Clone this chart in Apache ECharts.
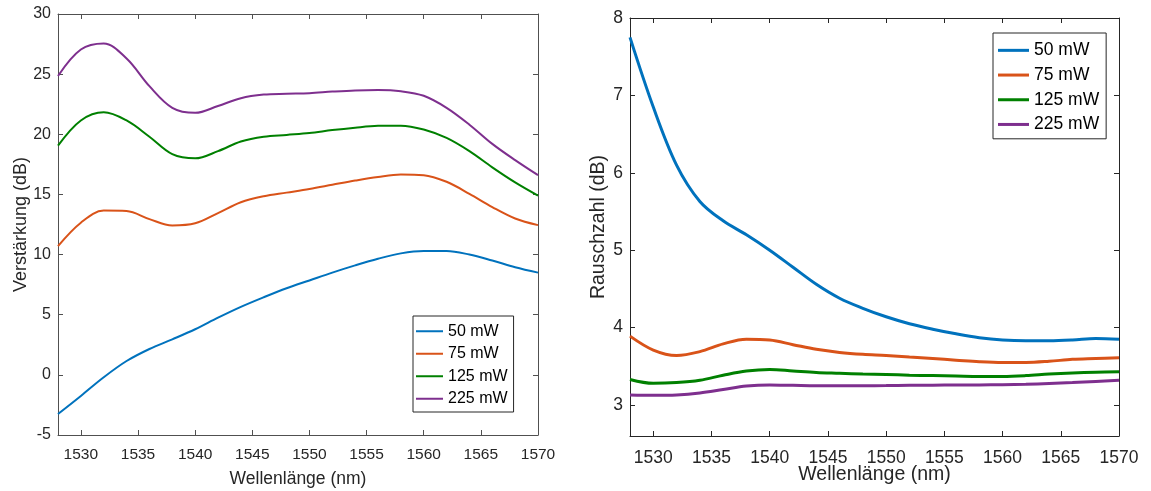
<!DOCTYPE html>
<html>
<head>
<meta charset="utf-8">
<script src="https://cdn.jsdelivr.net/npm/echarts@6/dist/echarts.min.js"></script>
<style>
html,body{margin:0;padding:0;background:#fff;}
#chart{width:1151px;height:491px;}
</style>
</head>
<body>
<div id="chart"></div>
<script>
// Wavelength grid (nm)
const wavelength = [1528,1530,1532,1534,1536,1538,1540,1542,1544,1546,1548,1550,1552,1554,1556,1558,1560,1562,1564,1566,1568,1570];
const seriesNames = ['50 mW','75 mW','125 mW','225 mW'];
const xTicks = [1530,1535,1540,1545,1550,1555,1560,1565,1570];
const nfTicks = [3,4,5,6,7,8];

// Gain (Verstärkung, dB)
const gain50  = [-3.25,-1.75,-0.2,1.15,2.15,2.95,3.79,4.75,5.65,6.45,7.2,7.85,8.5,9.1,9.65,10.1,10.3,10.3,10.0,9.5,8.95,8.5];
const gain75  = [10.7,12.65,13.66,13.62,12.95,12.42,12.6,13.45,14.35,14.85,15.15,15.45,15.8,16.15,16.45,16.65,16.6,16.05,15.05,13.95,13.0,12.45];
const gain125 = [19.05,21.15,21.83,21.15,19.8,18.35,18.0,18.6,19.4,19.8,19.95,20.1,20.35,20.55,20.7,20.72,20.4,19.7,18.6,17.25,16.0,14.9];
const gain225 = [24.85,27.05,27.55,26.3,24.0,22.2,21.78,22.35,23.0,23.3,23.37,23.42,23.55,23.65,23.68,23.58,23.2,22.2,20.8,19.2,17.85,16.6];

// Noise figure (Rauschzahl, dB)
const nf50  = [7.75,6.85,6.1,5.63,5.38,5.2,5.0,4.78,4.56,4.38,4.25,4.14,4.05,3.98,3.92,3.87,3.84,3.83,3.83,3.84,3.86,3.85];
const nf75  = [3.89,3.71,3.64,3.69,3.79,3.85,3.84,3.78,3.72,3.68,3.655,3.64,3.62,3.6,3.58,3.56,3.55,3.55,3.565,3.59,3.6,3.61];
const nf125 = [3.33,3.28,3.29,3.32,3.385,3.44,3.46,3.44,3.42,3.41,3.4,3.395,3.385,3.38,3.375,3.37,3.37,3.38,3.4,3.415,3.425,3.43];
const nf225 = [3.13,3.125,3.13,3.155,3.2,3.245,3.26,3.255,3.25,3.25,3.25,3.252,3.255,3.257,3.258,3.26,3.262,3.268,3.278,3.29,3.305,3.32];

const colors = ['#0072BD','#D95319','#008000','#7E2F8E'];
const FONT = 'Liberation Sans, Arial, Helvetica, sans-serif';
const TXT = '#262626';

function pairs(v){ return wavelength.map((x,i)=>[x,v[i]]); }

function xAx(grid, pos, show, fs, axColor, nameGap, margin){
  return {
    type:'value', gridIndex:grid, position:pos, min:1528, max:1570,
    name: show ? 'Wellenlänge (nm)' : '', nameLocation:'middle', nameGap:nameGap, nameMoveOverlap:false,
    nameTextStyle:{fontFamily:FONT, fontSize:fs+2, color:TXT},
    axisLine:{show:true, onZero:false, lineStyle:{color:axColor, width:1}},
    axisTick:{show:true, inside:true, length:5, customValues:xTicks, lineStyle:{color:axColor}},
    axisLabel:{show:show, customValues:xTicks, fontFamily:FONT, fontSize:fs, color:TXT, margin:margin,
      formatter:(v)=>String(v)},
    splitLine:{show:false}
  };
}
function yAx(grid, pos, show, opts){
  const a = {
    type:'value', gridIndex:grid, position:pos, min:opts.min, max:opts.max,
    name: show ? opts.name : '', nameLocation:'middle', nameGap:opts.nameGap, nameMoveOverlap:false,
    nameTextStyle:{fontFamily:FONT, fontSize:opts.fs+2, color:TXT},
    axisLine:{show:true, onZero:false, lineStyle:{color:opts.axColor, width:1}},
    axisTick:{show:true, inside:true, length:5, lineStyle:{color:opts.axColor}},
    axisLabel:{show:show, fontFamily:FONT, fontSize:opts.fs, color:TXT, margin:7,
      formatter:(v)=>String(v)},
    splitLine:{show:false}
  };
  if (opts.interval){ a.interval = opts.interval; }
  if (opts.ticks){ a.axisTick.customValues = opts.ticks; a.axisLabel.customValues = opts.ticks; }
  return a;
}

const gainData = [gain50,gain75,gain125,gain225];
const nfData = [nf50,nf75,nf125,nf225];
const series = [];
seriesNames.forEach((n,i)=>{
  series.push({name:n, type:'line', xAxisIndex:0, yAxisIndex:0, data:pairs(gainData[i]),
    smooth:0.35, showSymbol:false, symbol:'none', lineStyle:{color:colors[i], width:2}, itemStyle:{color:colors[i]}, z:3});
});
seriesNames.forEach((n,i)=>{
  series.push({name:n, type:'line', xAxisIndex:2, yAxisIndex:2, data:pairs(nfData[i]),
    smooth:0.35, showSymbol:false, symbol:'none', lineStyle:{color:colors[i], width:3}, itemStyle:{color:colors[i]}, z:3});
});

const chart = echarts.init(document.getElementById('chart'), null, {renderer:'canvas'});
chart.setOption({
  animation:false,
  backgroundColor:'#fff',
  grid:[
    {left:58, top:14, width:480, height:421, outerBoundsMode:'none', containLabel:false},
    {left:630, top:18, width:489, height:418, outerBoundsMode:'none', containLabel:false}
  ],
  xAxis:[
    xAx(0,'bottom',true,15.5,'#505050',35,12),
    xAx(0,'top',false,15.5,'#505050',0,12),
    xAx(1,'bottom',true,17.5,'#262626',29,13),
    xAx(1,'top',false,17.5,'#262626',0,13)
  ],
  yAxis:[
    yAx(0,'left',true,{min:-5,max:30,interval:5,name:'Verstärkung (dB)',nameGap:28,fs:16,axColor:'#505050'}),
    yAx(0,'right',false,{min:-5,max:30,interval:5,fs:16,axColor:'#505050'}),
    yAx(1,'left',true,{min:2.6,max:8,ticks:nfTicks,name:'Rauschzahl (dB)',nameGap:21,fs:17.5,axColor:'#262626'}),
    yAx(1,'right',false,{min:2.6,max:8,ticks:nfTicks,fs:17.5,axColor:'#262626'})
  ],
  legend:[
    {data:seriesNames, orient:'vertical', left:413, top:316, icon:'rect', itemWidth:27, itemHeight:2,
     itemGap:0, padding:[4,6,2,3], borderColor:'#262626', borderWidth:1, backgroundColor:'#fff',
     selectedMode:false, textStyle:{fontFamily:FONT, fontSize:16, color:'#000', lineHeight:22.5}},
    {data:seriesNames, orient:'vertical', left:993, top:33, icon:'rect', itemWidth:31, itemHeight:3,
     itemGap:0, padding:[5,7,2,5], borderColor:'#262626', borderWidth:1, backgroundColor:'#fff',
     selectedMode:false, textStyle:{fontFamily:FONT, fontSize:17.5, color:'#000', lineHeight:24.7}}
  ],
  series:series
});
</script>
</body>
</html>
